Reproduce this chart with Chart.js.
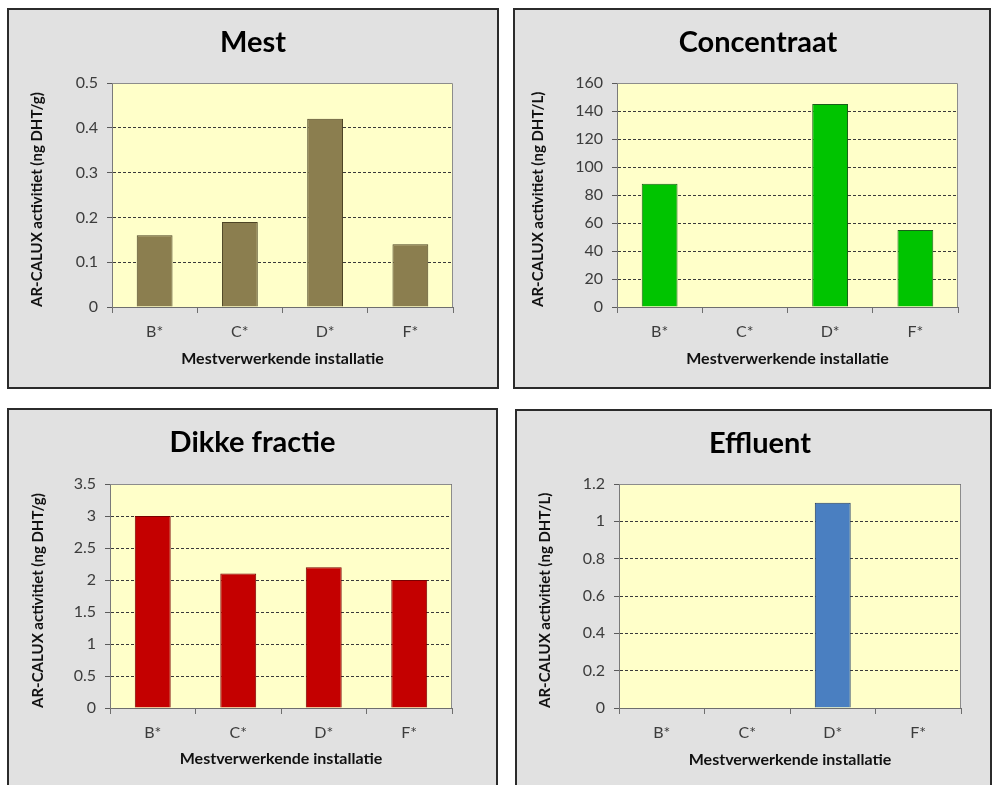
<!DOCTYPE html>
<html>
<head>
<meta charset="utf-8">
<script src="https://cdn.jsdelivr.net/npm/chart.js@4"></script>
<style>
  html, body { margin: 0; padding: 0; background: #ffffff; width: 992px; height: 785px; overflow: hidden; }
  .panel { position: absolute; box-sizing: border-box; border: 2px solid #2b2b2b; background: #e1e1e1; }
  .panel canvas { position: absolute; left: 0; top: 0; }
</style>
</head>
<body>
<div class="panel" style="left:7px;top:8px;width:492px;height:381px"><canvas id="cMest" width="488" height="377"></canvas></div>
<div class="panel" style="left:513px;top:8px;width:478px;height:381px"><canvas id="cConc" width="474" height="377"></canvas></div>
<div class="panel" style="left:7px;top:408px;width:491px;height:381px"><canvas id="cDikke" width="487" height="377"></canvas></div>
<div class="panel" style="left:515px;top:409px;width:477px;height:381px"><canvas id="cEffl" width="473" height="377"></canvas></div>

<script>
// Installations (x categories)
const categories = ['B*', 'C*', 'D*', 'F*'];

// AR-CALUX activity per fraction
const mestValues = [0.16, 0.19, 0.42, 0.14];        // ng DHT/g
const concentraatValues = [88, null, 145, 55];       // ng DHT/L
const dikkeFractieValues = [3.0, 2.1, 2.2, 2.0];     // ng DHT/g
const effluentValues = [null, null, 1.1, null];      // ng DHT/L

// Axis texts
const xAxisTitle = 'Mestverwerkende installatie';
const yTitlePerGram = 'AR-CALUX activitiet (ng DHT/g)';
const yTitlePerLiter = 'AR-CALUX activitiet (ng DHT/L)';

const FONT = 'Lato, "Open Sans", "DejaVu Sans", sans-serif';

// Paints the pale plot background and a thin frame around the plot area
const plotFrame = {
  id: 'plotFrame',
  beforeDraw(chart) {
    const a = chart.chartArea, ctx = chart.ctx;
    ctx.save();
    ctx.fillStyle = '#ffffc9';
    ctx.fillRect(a.left, a.top, a.right - a.left, a.bottom - a.top);
    ctx.restore();
  },
  beforeDatasetsDraw(chart) {
    const a = chart.chartArea, ctx = chart.ctx;
    ctx.save();
    ctx.strokeStyle = '#8c8c8c';
    ctx.lineWidth = 1;
    ctx.beginPath();
    ctx.moveTo(a.left + 0.5, a.top + 0.5);
    ctx.lineTo(a.right - 0.5, a.top + 0.5);
    ctx.lineTo(a.right - 0.5, a.bottom);
    ctx.stroke();
    ctx.restore();
  }
};

function fmt(v) { return String(Math.round(v * 100) / 100); }

function makeChart(id, cfg) {
  const canvas = document.getElementById(id);
  const W = canvas.width, H = canvas.height;
  const g = cfg.box;            // plot box in canvas pixels
  const shift = cfg.shift || 0; // extra left room, moves the title centre right
  const titleFont = 29, titleLH = titleFont * 1.2;
  const yTitleFont = 15, yTitleLH = yTitleFont * 1.2;
  return new Chart(canvas, {
    type: 'bar',
    data: {
      labels: categories,
      datasets: [{
        data: cfg.values,
        backgroundColor: cfg.fill,
        borderColor: cfg.stroke,
        borderWidth: 1,
        borderSkipped: 'bottom',
        barPercentage: 0.42,
        categoryPercentage: 1.0
      }]
    },
    options: {
      responsive: false,
      animation: false,
      events: [],
      layout: { padding: { left: shift, right: 0, top: 0, bottom: 0 } },
      plugins: {
        legend: { display: false },
        tooltip: { enabled: false },
        title: {
          display: true,
          text: cfg.title,
          color: '#000000',
          font: { family: FONT, size: titleFont, weight: 'bold', lineHeight: 1.2 },
          padding: { top: 15, bottom: g.top - 15 - titleLH }
        }
      },
      scales: {
        x: {
          type: 'category',
          offset: true,
          grid: {
            offset: true,
            drawOnChartArea: false,
            drawTicks: true,
            tickLength: 6,
            color: '#6e6e6e'
          },
          border: { display: true, color: '#6e6e6e', width: 1 },
          ticks: { color: '#3c3c3c', padding: 9, font: { family: FONT, size: 16 } },
          title: {
            display: true,
            text: xAxisTitle,
            color: '#111111',
            font: { family: FONT, size: 16, weight: 'bold', lineHeight: 1.2 },
            padding: { top: 0, bottom: 19 }
          },
          afterFit(s) { s.height = H - g.bottom; }
        },
        y: {
          min: 0,
          max: cfg.max,
          position: 'left',
          ticks: {
            stepSize: cfg.step,
            color: '#3c3c3c',
            padding: 9,
            font: { family: FONT, size: 16 },
            callback: fmt
          },
          grid: {
            color: '#3a3a3a',
            lineWidth: 1,
            drawTicks: true,
            tickLength: 5,
            tickColor: '#5a5a5a',
            tickBorderDash: []
          },
          border: { display: true, color: '#7a7a7a', width: 1, dash: [3, 2] },
          title: {
            display: true,
            text: cfg.yTitle,
            align: 'start',
            color: '#111111',
            font: { family: FONT, size: yTitleFont, weight: 'bold', lineHeight: 1.2 },
            padding: { top: cfg.yTitleX - shift - yTitleLH / 2, bottom: 0 }
          },
          afterFit(s) { s.width = g.left - shift; }
        },
        // empty right-hand spacer so the plot ends where the frame leaves room
        spacer: {
          type: 'linear',
          position: 'right',
          display: true,
          ticks: { display: false },
          grid: { display: false },
          border: { display: false },
          afterFit(s) { s.width = W - g.right; }
        }
      }
    },
    plugins: [plotFrame]
  });
}

makeChart('cMest', {
  title: 'Mest', yTitle: yTitlePerGram, values: mestValues,
  fill: '#8b7e4f', stroke: '#4d4425', max: 0.5, step: 0.1,
  box: { left: 103, right: 444, top: 73, bottom: 297 }, yTitleX: 28
});
makeChart('cConc', {
  title: 'Concentraat', yTitle: yTitlePerLiter, values: concentraatValues,
  fill: '#00c400', stroke: '#1b5e1b', max: 160, step: 20,
  box: { left: 102, right: 443, top: 73, bottom: 297 }, yTitleX: 23, shift: 12
});
makeChart('cDikke', {
  title: 'Dikke fractie', yTitle: yTitlePerGram, values: dikkeFractieValues,
  fill: '#c40000', stroke: '#7a0000', max: 3.5, step: 0.5,
  box: { left: 101, right: 443, top: 74, bottom: 298 }, yTitleX: 29
});
makeChart('cEffl', {
  title: 'Effluent', yTitle: yTitlePerLiter, values: effluentValues,
  fill: '#4a7fc1', stroke: '#223c66', max: 1.2, step: 0.2,
  box: { left: 102, right: 444, top: 73, bottom: 297 }, yTitleX: 28, shift: 13
});
</script>
</body>
</html>
